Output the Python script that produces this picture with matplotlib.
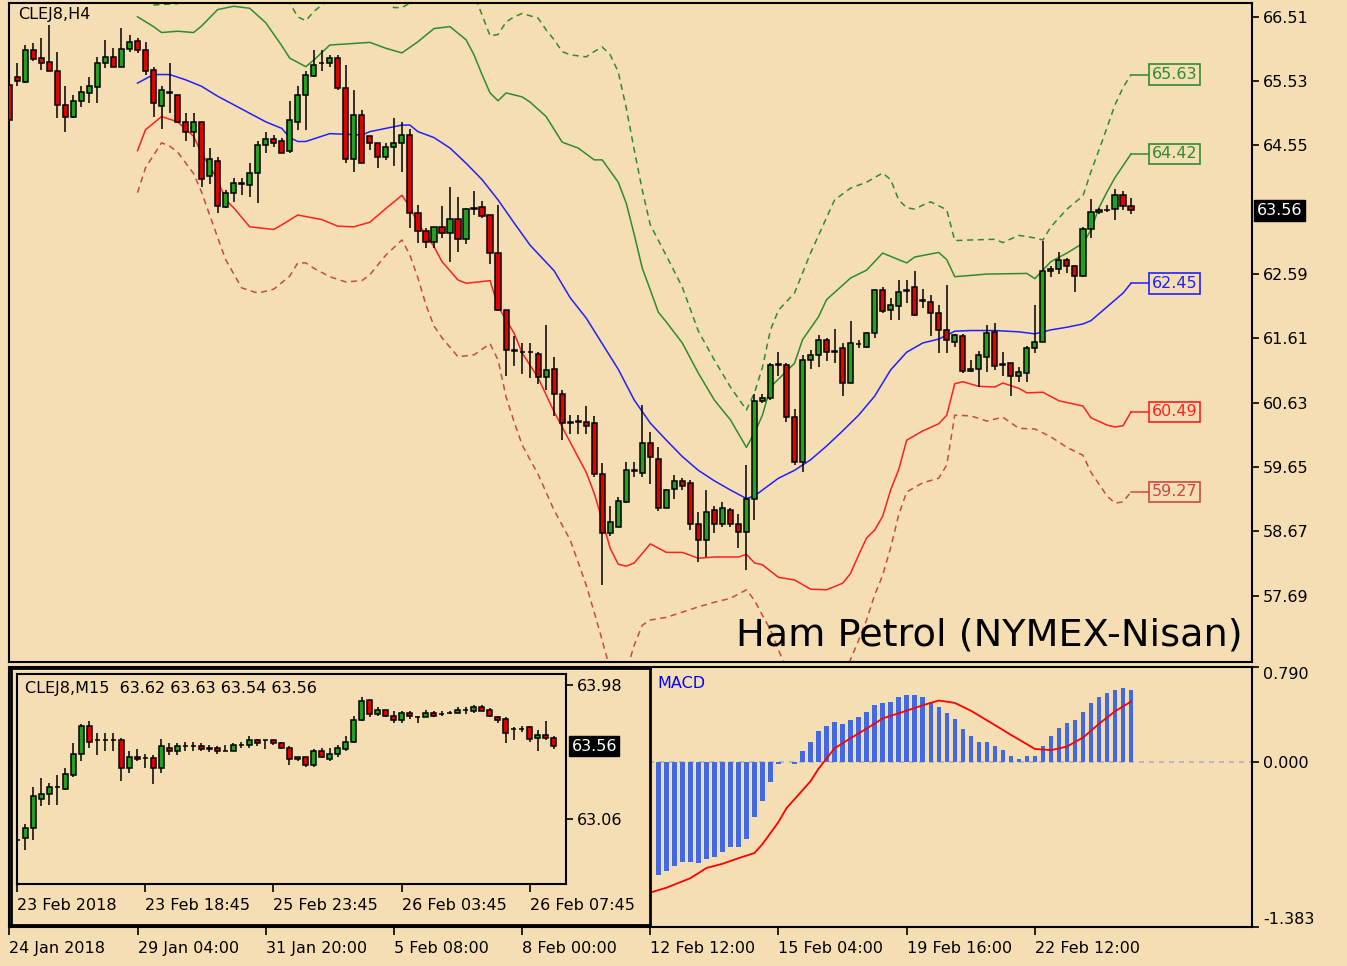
import numpy as np
import matplotlib.pyplot as plt
from matplotlib.transforms import blended_transform_factory

# ---- H4 candles (bar index 0..140) ----
h4_open = [65.47, 65.60, 65.52, 66.00, 65.88, 65.82, 65.69, 65.17, 64.98, 65.23,
           65.35, 65.44, 65.81, 65.90, 65.74, 66.02, 66.14, 66.00, 65.70, 65.15,
           65.36, 65.32, 64.91, 64.76, 64.90, 64.08, 64.32, 63.61, 63.83, 63.97,
           63.95, 64.13, 64.56, 64.65, 64.61, 64.46, 64.91, 65.32, 65.61, 65.80,
           65.80, 65.88, 65.42, 64.34, 65.02, 64.69, 64.58, 64.37, 64.52, 64.58,
           64.71, 63.52, 63.24, 63.08, 63.30, 63.21, 63.43, 63.12, 63.58, 63.61,
           63.49, 62.91, 62.05, 61.43, 61.41, 61.40, 61.38, 61.02, 61.14, 60.77,
           60.33, 60.33, 60.34, 60.32, 59.55, 58.65, 58.74, 59.12, 59.59, 59.56,
           60.01, 59.77, 59.03, 59.31, 59.43, 59.40, 58.78, 58.54, 58.99, 58.78,
           59.00, 58.78, 58.66, 59.17, 60.65, 60.70, 61.21, 61.21, 60.41, 59.72,
           61.28, 61.36, 61.58, 61.41, 61.46, 60.93, 61.52, 61.48, 61.70, 62.34,
           62.05, 62.10, 62.33, 62.39, 62.18, 62.17, 61.99, 61.74, 61.56, 61.64,
           61.12, 61.14, 61.32, 61.71, 61.20, 61.23, 61.04, 61.08, 61.47, 61.56,
           62.64, 62.66, 62.80, 62.71, 62.56, 63.27, 63.54, 63.56, 63.58, 63.80,
           63.62]
h4_high = [65.58, 65.80, 66.08, 66.11, 66.19, 66.39, 65.98, 65.45, 65.32, 65.45,
           65.60, 65.90, 66.15, 66.03, 66.34, 66.24, 66.19, 66.13, 65.75, 65.46,
           65.81, 65.32, 65.04, 65.04, 64.91, 64.51, 64.38, 63.87, 64.05, 64.05,
           64.28, 64.61, 64.75, 64.71, 64.66, 65.22, 65.45, 65.68, 66.01, 66.01,
           65.93, 65.93, 65.78, 65.40, 65.09, 64.69, 64.58, 64.58, 64.97, 64.90,
           64.80, 63.64, 63.29, 63.31, 63.62, 63.92, 63.77, 63.59, 63.86, 63.71,
           63.49, 63.64, 62.05, 61.64, 61.54, 61.54, 61.41, 61.81, 61.32, 60.83,
           60.44, 60.44, 60.58, 60.43, 59.71, 59.06, 59.20, 59.73, 59.73, 60.59,
           60.19, 59.96, 59.31, 59.53, 59.48, 59.46, 58.97, 59.30, 59.05, 59.12,
           59.03, 58.94, 59.68, 60.77, 60.77, 61.23, 61.41, 61.23, 60.53, 61.36,
           61.43, 61.66, 61.61, 61.75, 61.54, 61.87, 61.59, 61.71, 62.37, 62.40,
           62.22, 62.50, 62.50, 62.64, 62.37, 62.27, 62.12, 62.43, 61.68, 61.68,
           61.28, 61.42, 61.81, 61.85, 61.41, 61.24, 61.18, 61.50, 62.12, 63.10,
           62.71, 62.92, 62.83, 62.73, 63.30, 63.73, 63.59, 63.64, 63.88, 63.85,
           63.75]
h4_low = [64.83, 65.45, 65.50, 65.83, 65.70, 65.68, 64.97, 64.76, 64.97, 65.14,
          65.19, 65.19, 65.73, 65.74, 65.74, 65.98, 65.96, 65.63, 64.99, 64.80,
          65.04, 64.89, 64.61, 64.53, 63.92, 63.97, 63.52, 63.59, 63.69, 63.80,
          63.77, 63.67, 64.43, 64.53, 64.43, 64.43, 64.79, 64.79, 65.59, 65.68,
          65.75, 65.40, 64.28, 64.15, 64.28, 64.48, 64.20, 64.33, 64.24, 64.15,
          63.29, 63.06, 62.98, 62.98, 63.14, 62.78, 62.93, 63.05, 63.49, 63.44,
          62.74, 62.02, 61.04, 61.19, 61.07, 61.00, 60.92, 60.82, 60.43, 60.06,
          60.16, 60.16, 60.15, 59.50, 57.85, 58.60, 58.74, 59.10, 59.50, 59.50,
          59.39, 58.98, 59.02, 59.17, 59.30, 58.69, 58.21, 58.28, 58.64, 58.74,
          58.74, 58.41, 58.08, 58.84, 60.62, 60.67, 61.03, 60.34, 59.68, 59.58,
          61.15, 61.18, 61.27, 61.23, 60.73, 60.93, 61.46, 61.46, 61.61, 62.00,
          61.89, 61.89, 62.15, 61.95, 62.07, 61.65, 61.39, 61.39, 61.48, 61.09,
          61.10, 60.87, 61.10, 61.13, 61.04, 60.73, 60.95, 60.95, 61.39, 61.55,
          62.55, 62.59, 62.61, 62.32, 62.55, 63.14, 63.51, 63.54, 63.42, 63.57,
          63.51]
h4_close = [64.94, 65.53, 66.00, 65.87, 65.80, 65.69, 65.16, 64.98, 65.23, 65.36,
            65.45, 65.81, 65.90, 65.74, 66.02, 66.13, 66.00, 65.68, 65.19, 65.40,
            65.35, 64.90, 64.76, 64.90, 64.04, 64.34, 63.62, 63.83, 63.98, 63.98,
            64.13, 64.56, 64.65, 64.58, 64.44, 64.94, 65.32, 65.63, 65.78, 65.81,
            65.88, 65.42, 64.34, 65.02, 64.28, 64.58, 64.37, 64.53, 64.58, 64.71,
            63.52, 63.24, 63.08, 63.30, 63.21, 63.43, 63.12, 63.58, 63.60, 63.47,
            62.91, 62.04, 61.43, 61.42, 61.40, 61.41, 61.02, 61.13, 60.77, 60.32,
            60.32, 60.35, 60.28, 59.55, 58.64, 58.82, 59.14, 59.60, 59.60, 60.01,
            59.80, 59.02, 59.30, 59.43, 59.36, 58.78, 58.54, 58.97, 58.78, 59.03,
            58.78, 58.66, 59.16, 60.65, 60.70, 61.21, 61.22, 60.41, 59.73, 61.28,
            61.36, 61.58, 61.41, 61.42, 60.93, 61.54, 61.53, 61.70, 62.34, 62.03,
            62.12, 62.32, 62.35, 61.97, 62.19, 61.99, 61.74, 61.59, 61.66, 61.12,
            61.14, 61.36, 61.70, 61.19, 61.22, 61.04, 61.10, 61.47, 61.56, 62.64,
            62.66, 62.80, 62.71, 62.56, 63.27, 63.54, 63.56, 63.57, 63.80, 63.62,
            63.56]

# ---- envelope lines (bar index, price) ----
mid_idx = [16, 18, 20, 22, 24, 26, 28, 30, 32, 34, 35, 36, 37, 39, 40, 42, 44, 45, 47, 49,
           50, 51, 53, 55, 57, 59, 61, 63, 65, 67, 68, 70, 72, 76, 78, 80, 82, 84, 86, 88,
           90, 92, 93, 94, 96, 98, 100, 102, 104, 106, 108, 110, 112, 114, 116, 118, 120,
           123, 126, 128, 130, 132, 134, 135, 137, 139, 140]
mid_val = [65.50, 65.63, 65.63, 65.55, 65.45, 65.30, 65.17, 65.04, 64.91, 64.81, 64.67,
           64.61, 64.61, 64.69, 64.73, 64.72, 64.71, 64.76, 64.81, 64.86, 64.86, 64.76,
           64.67, 64.51, 64.28, 64.03, 63.72, 63.37, 63.03, 62.77, 62.64, 62.23, 61.92,
           61.14, 60.67, 60.32, 60.06, 59.81, 59.60, 59.44, 59.30, 59.17, 59.21, 59.30,
           59.48, 59.60, 59.76, 59.97, 60.20, 60.44, 60.73, 61.13, 61.40, 61.54, 61.60,
           61.72, 61.73, 61.73, 61.71, 61.68, 61.74, 61.78, 61.83, 61.88, 62.09, 62.30,
           62.45]
up1_idx = [16, 18, 19, 21, 23, 24, 26, 28, 30, 32, 34, 35, 37, 38, 40, 45, 47, 49, 51, 53,
           55, 57, 58, 59, 60, 61, 62, 64, 65, 67, 69, 71, 73, 74, 76, 77, 78, 79, 80, 81,
           82, 84, 86, 88, 90, 92, 93, 94, 95, 98, 99, 101, 102, 105, 107, 109, 112, 113,
           116, 117, 118, 122, 127, 128, 130, 132, 134, 135, 136, 137, 138, 139, 140]
up1_val = [66.51, 66.36, 66.27, 66.29, 66.27, 66.37, 66.62, 66.67, 66.64, 66.42, 66.07,
           65.88, 65.75, 65.85, 66.08, 66.12, 66.03, 65.96, 66.13, 66.33, 66.36, 66.16,
           65.93, 65.63, 65.35, 65.23, 65.35, 65.29, 65.21, 64.99, 64.60, 64.51, 64.33,
           64.33, 63.99, 63.67, 63.19, 62.68, 62.35, 62.01, 61.86, 61.54, 61.08, 60.67,
           60.37, 59.95, 60.17, 60.44, 60.87, 61.23, 61.59, 61.94, 62.20, 62.53, 62.65,
           62.91, 62.76, 62.85, 62.92, 62.81, 62.55, 62.59, 62.60, 62.52, 62.78, 62.91,
           63.06, 63.26, 63.60, 63.84, 64.06, 64.24, 64.42]
up2_idx = [16, 18, 21, 23, 26, 30, 34, 35, 36, 37, 38, 39, 42, 46, 48, 49, 50, 52, 56, 58,
           59, 60, 61, 62, 63, 64, 66, 67, 68, 69, 70, 72, 73, 74, 75, 76, 77, 78, 79, 80,
           82, 84, 86, 88, 90, 92, 93, 94, 95, 96, 98, 100, 102, 103, 105, 107, 109, 110,
           111, 112, 113, 114, 115, 117, 118, 120, 123, 124, 126, 127, 128, 129, 130, 132,
           134, 135, 136, 137, 138, 139, 140]
up2_val = [66.85, 66.69, 66.71, 66.90, 67.30, 67.30, 66.95, 66.72, 66.51, 66.45, 66.59,
           66.69, 66.95, 66.90, 66.65, 66.65, 66.72, 66.90, 67.10, 66.85, 66.54, 66.22,
           66.24, 66.43, 66.51, 66.56, 66.49, 66.31, 66.16, 65.98, 65.93, 65.90, 65.98,
           66.05, 65.93, 65.67, 65.12, 64.48, 63.87, 63.34, 62.87, 62.39, 61.72, 61.28,
           60.87, 60.52, 60.78, 61.17, 61.74, 62.04, 62.30, 62.91, 63.45, 63.72, 63.90,
           63.99, 64.13, 64.03, 63.72, 63.60, 63.58, 63.64, 63.69, 63.57, 63.10, 63.11,
           63.12, 63.07, 63.18, 63.16, 63.14, 63.11, 63.31, 63.58, 63.78, 64.15, 64.48,
           64.82, 65.17, 65.43, 65.63]
lo1_idx = [16, 17, 19, 21, 23, 24, 26, 27, 28, 30, 33, 34, 36, 39, 41, 43, 45, 47, 49, 50,
           51, 53, 54, 56, 57, 60, 61, 62, 63, 64, 66, 68, 70, 72, 73, 74, 75, 76, 77, 78,
           80, 82, 84, 86, 88, 91, 92, 93, 94, 96, 98, 100, 102, 104, 105, 106, 107, 108,
           109, 110, 111, 112, 114, 116, 117, 118, 119, 121, 123, 124, 126, 127, 129, 131,
           134, 135, 137, 138, 139, 140]
lo1_val = [64.47, 64.79, 64.99, 64.91, 64.69, 64.43, 64.03, 63.72, 63.60, 63.31, 63.27,
           63.34, 63.49, 63.42, 63.32, 63.31, 63.38, 63.59, 63.79, 63.61, 63.36, 63.01,
           62.78, 62.50, 62.45, 62.49, 62.10, 61.89, 61.69, 61.39, 61.01, 60.49, 60.03,
           59.57, 59.25, 58.84, 58.41, 58.17, 58.14, 58.19, 58.48, 58.35, 58.35, 58.26,
           58.28, 58.28, 58.32, 58.19, 58.16, 57.97, 57.93, 57.79, 57.78, 57.88, 58.03,
           58.31, 58.57, 58.69, 58.90, 59.30, 59.61, 60.06, 60.20, 60.31, 60.44, 60.92,
           60.95, 60.88, 60.87, 60.93, 60.85, 60.78, 60.79, 60.66, 60.58, 60.40, 60.29,
           60.26, 60.28, 60.49]
lo2_idx = [16, 17, 19, 20, 21, 23, 24, 25, 27, 29, 31, 33, 35, 36, 37, 38, 40, 42, 44, 45,
           47, 49, 50, 51, 52, 53, 54, 56, 58, 60, 61, 62, 63, 64, 65, 66, 68, 70, 71, 72,
           73, 74, 75, 76, 77, 78, 79, 80, 82, 84, 86, 88, 90, 92, 93, 94, 95, 96, 97, 100,
           103, 105, 106, 107, 108, 109, 110, 111, 112, 114, 116, 117, 118, 120, 122, 124,
           126, 128, 130, 132, 134, 135, 137, 138, 139, 140]
lo2_val = [63.83, 64.21, 64.59, 64.54, 64.45, 64.12, 63.84, 63.49, 62.81, 62.38, 62.30,
           62.36, 62.56, 62.76, 62.76, 62.68, 62.55, 62.47, 62.49, 62.58, 62.88, 63.11,
           62.88, 62.53, 62.12, 61.80, 61.62, 61.33, 61.36, 61.53, 61.28, 60.72, 60.34,
           59.99, 59.76, 59.54, 58.99, 58.54, 58.20, 57.85, 57.44, 57.01, 56.56, 56.25,
           56.53, 56.94, 57.24, 57.32, 57.36, 57.44, 57.52, 57.59, 57.65, 57.78, 57.62,
           57.39, 57.17, 56.86, 56.59, 56.25, 56.10, 56.72, 57.01, 57.32, 57.70, 58.00,
           58.42, 58.92, 59.27, 59.41, 59.48, 59.68, 60.44, 60.43, 60.35, 60.41, 60.24,
           60.23, 60.11, 59.95, 59.83, 59.57, 59.21, 59.10, 59.12, 59.27]

# ---- MACD window ----
macd_idx = list(range(81, 141))
macd_val = [-0.947, -0.919, -0.872, -0.836, -0.836, -0.850, -0.816, -0.800, -0.752, -0.716,
            -0.716, -0.649, -0.465, -0.334, -0.167, -0.020, 0.000, -0.020, 0.084, 0.167,
            0.251, 0.298, 0.334, 0.315, 0.348, 0.371, 0.410, 0.474, 0.493, 0.501,
            0.538, 0.557, 0.557, 0.538, 0.501, 0.454, 0.404, 0.354, 0.270, 0.215,
            0.167, 0.167, 0.131, 0.098, 0.047, 0.020, 0.047, 0.047, 0.131, 0.215,
            0.279, 0.320, 0.348, 0.418, 0.488, 0.538, 0.571, 0.599, 0.613, 0.599]
sig_idx = [80, 82, 85, 86, 87, 89, 91, 93, 94, 96, 97, 100, 101, 103, 105, 107, 109, 112,
           114, 116, 118, 120, 123, 125, 127, 128, 130, 132, 134, 136, 138, 140]
sig_val = [-1.095, -1.055, -0.975, -0.933, -0.890, -0.855, -0.808, -0.765, -0.690, -0.505,
           -0.390, -0.165, -0.060, 0.110, 0.195, 0.275, 0.360, 0.425, 0.470, 0.510, 0.490,
           0.425, 0.305, 0.223, 0.145, 0.105, 0.095, 0.125, 0.200, 0.315, 0.420, 0.501]

# ---- M15 inset candles ----
m15_open = [62.92, 62.93, 63.00, 63.20, 63.23, 63.28, 63.27, 63.36, 63.51, 63.70,
            63.60, 63.60, 63.60, 63.60, 63.41, 63.49, 63.48, 63.48, 63.41, 63.55,
            63.53, 63.56, 63.56, 63.56, 63.55, 63.55, 63.53, 63.53, 63.57, 63.57,
            63.60, 63.60, 63.60, 63.58, 63.55, 63.47, 63.49, 63.43, 63.53, 63.47,
            63.51, 63.54, 63.59, 63.74, 63.88, 63.78, 63.81, 63.77, 63.74, 63.79,
            63.76, 63.76, 63.79, 63.78, 63.79, 63.79, 63.81, 63.80, 63.83, 63.81,
            63.76, 63.75, 63.68, 63.68, 63.69, 63.62, 63.64, 63.62]
m15_high = [62.93, 63.03, 63.28, 63.34, 63.31, 63.36, 63.41, 63.58, 63.71, 63.73,
            63.65, 63.65, 63.65, 63.62, 63.53, 63.54, 63.51, 63.50, 63.61, 63.58,
            63.58, 63.59, 63.59, 63.58, 63.57, 63.56, 63.57, 63.58, 63.59, 63.63,
            63.61, 63.60, 63.60, 63.59, 63.56, 63.49, 63.49, 63.54, 63.55, 63.55,
            63.57, 63.63, 63.77, 63.90, 63.88, 63.83, 63.81, 63.80, 63.80, 63.80,
            63.77, 63.81, 63.80, 63.80, 63.80, 63.83, 63.83, 63.84, 63.84, 63.82,
            63.77, 63.76, 63.69, 63.70, 63.70, 63.67, 63.73, 63.63]
m15_low = [62.91, 62.85, 62.92, 63.15, 63.16, 63.16, 63.26, 63.35, 63.46, 63.55,
           63.50, 63.53, 63.53, 63.32, 63.38, 63.46, 63.41, 63.30, 63.38, 63.50,
           63.50, 63.53, 63.53, 63.53, 63.52, 63.51, 63.53, 63.53, 63.55, 63.55,
           63.56, 63.54, 63.57, 63.54, 63.43, 63.46, 63.42, 63.42, 63.48, 63.46,
           63.49, 63.53, 63.58, 63.73, 63.76, 63.77, 63.76, 63.72, 63.72, 63.75,
           63.72, 63.76, 63.76, 63.77, 63.78, 63.79, 63.78, 63.79, 63.80, 63.76,
           63.72, 63.58, 63.60, 63.66, 63.59, 63.53, 63.60, 63.54]
m15_close = [62.92, 63.00, 63.22, 63.23, 63.28, 63.28, 63.37, 63.51, 63.70, 63.59,
             63.60, 63.60, 63.60, 63.41, 63.49, 63.47, 63.48, 63.41, 63.56, 63.53,
             63.56, 63.56, 63.56, 63.54, 63.54, 63.53, 63.53, 63.57, 63.57, 63.60,
             63.58, 63.60, 63.58, 63.55, 63.47, 63.49, 63.43, 63.53, 63.49, 63.51,
             63.55, 63.59, 63.74, 63.87, 63.78, 63.81, 63.77, 63.74, 63.79, 63.77,
             63.76, 63.79, 63.77, 63.78, 63.79, 63.81, 63.81, 63.83, 63.80, 63.77,
             63.74, 63.65, 63.68, 63.68, 63.61, 63.64, 63.62, 63.56]

price_ticks = [66.51, 65.53, 64.55, 62.59, 61.61, 60.63, 59.65, 58.67, 57.69]
date_ticks = ['24 Jan 2018', '29 Jan 04:00', '31 Jan 20:00', '5 Feb 08:00', '8 Feb 00:00',
              '12 Feb 12:00', '15 Feb 04:00', '19 Feb 16:00', '22 Feb 12:00']
m15_date_ticks = ['23 Feb 2018', '23 Feb 18:45', '25 Feb 23:45', '26 Feb 03:45',
                  '26 Feb 07:45']
band_labels = [(65.63, '#2e8b2e'), (64.42, '#2e8b2e'), (62.45, '#2020ff'),
               (60.49, '#ff2020'), (59.27, '#c84848')]

BG = '#f5deb3'
BULL = '#22a022'
BEAR = '#e00000'
FS = 11.5
LW = 1.1

W, H = 1347, 966
fig = plt.figure(figsize=(W / 100, H / 100), dpi=100)
fig.patch.set_facecolor(BG)


def px_axes(x0, y0, x1, y1, **kw):
    return fig.add_axes([x0 / W, (H - y1) / H, (x1 - x0) / W, (y1 - y0) / H], **kw)


def draw_candles(ax, o, h, l, c, width=0.64):
    o, h, l, c = map(np.asarray, (o, h, l, c))
    x = np.arange(len(o))
    ax.vlines(x, l, h, color='black', lw=1.1, zorder=3)
    col = np.where(c > o, BULL, np.where(c < o, BEAR, 'black'))
    ax.bar(x, np.abs(c - o), bottom=np.minimum(o, c), width=width, color=col,
           edgecolor='black', linewidth=1.1, zorder=4)


def style_frame(ax, lw=1.5):
    ax.set_facecolor(BG)
    for s in ax.spines.values():
        s.set_color('black')
        s.set_linewidth(lw)


# ---------------- main H4 chart ----------------
ax = px_axes(9, 3, 1252, 662)
style_frame(ax)
ax.set_xlim(-0.04, 155.1)
ax.set_ylim(56.68, 66.72)

ax.plot(up2_idx, up2_val, color='#2e8b2e', lw=LW, dashes=(4, 3), zorder=2)
ax.plot(up1_idx, up1_val, color='#2e8b2e', lw=LW, zorder=2)
ax.plot(mid_idx, mid_val, color='#2020ff', lw=LW, zorder=2)
ax.plot(lo1_idx, lo1_val, color='#ff2020', lw=LW, zorder=2)
ax.plot(lo2_idx, lo2_val, color='#c84848', lw=LW, dashes=(4, 3), zorder=2)
draw_candles(ax, h4_open, h4_high, h4_low, h4_close)

for val, col in band_labels:
    ax.plot([140, 142.4], [val, val], color=col, lw=LW, zorder=2)
    ax.text(142.55, val, f'{val:.2f}', color=col, fontsize=FS, va='center', ha='left',
            bbox=dict(boxstyle='square,pad=0.18', fc=BG, ec=col, lw=1.2))

ax.set_xticks([])
ax.yaxis.tick_right()
ax.set_yticks(price_ticks)
ax.set_yticklabels([f'{v:.2f}' for v in price_ticks])
ax.tick_params(axis='y', direction='out', length=5, width=1.2, pad=3, labelsize=FS)
trans = blended_transform_factory(ax.transAxes, ax.transData)
ax.text(1.004, 63.56, '63.56', transform=trans, color='white', fontsize=FS,
        va='center', ha='left', bbox=dict(boxstyle='square,pad=0.18', fc='black', ec='black'))
ax.text(1.1, 66.54, 'CLEJ8,H4', fontsize=FS, va='center', ha='left')
ax.text(153.9, 57.09, 'Ham Petrol (NYMEX-Nisan)', fontsize=27.5, va='center', ha='right')

# ---------------- MACD window ----------------
mx = px_axes(9, 667, 1252, 927)
style_frame(mx)
mx.set_xlim(-0.04, 155.1)
mx.set_ylim(-1.383, 0.790)
mx.axhline(0, color='#a8b4cc', lw=1.2, dashes=(3, 3), zorder=1)
mx.bar(macd_idx, macd_val, width=0.55, color='#4169e1', zorder=2)
mx.plot(sig_idx, sig_val, color='#ff0000', lw=LW + 0.2, zorder=3)
mx.text(0.522, 0.938, 'MACD', transform=mx.transAxes, color='#0000ff', fontsize=FS,
        va='center', ha='left')
mx.yaxis.tick_right()
mx.set_yticks([0.790, 0.0, -1.383])
mx.set_yticklabels(['0.790', '0.000', '-1.383'])
mx.tick_params(axis='y', direction='out', length=5, width=1.2, pad=3, labelsize=FS)
ylab = mx.get_yticklabels()
ylab[0].set_va('top')
ylab[2].set_va('bottom')
mx.set_xticks([16 * k for k in range(len(date_ticks))])
mx.set_xticklabels(date_ticks, ha='left')
mx.tick_params(axis='x', direction='out', length=6, width=1.2, pad=4, labelsize=FS)

# ---------------- M15 inset window ----------------
fr = px_axes(11, 668, 650, 925, zorder=5)
style_frame(fr, lw=2)
fr.set_xticks([])
fr.set_yticks([])

ix = px_axes(17, 674, 566, 884, zorder=6)
style_frame(ix, lw=1.5)
ix.set_xlim(-0.06, 68.56)
ix.set_ylim(62.617, 64.055)
draw_candles(ix, m15_open, m15_high, m15_low, m15_close)
ix.yaxis.tick_right()
ix.set_yticks([63.98, 63.06])
ix.set_yticklabels(['63.98', '63.06'])
ix.tick_params(axis='y', direction='out', length=5, width=1.2, pad=3, labelsize=FS)
itr = blended_transform_factory(ix.transAxes, ix.transData)
ix.text(1.01, 63.56, '63.56', transform=itr, color='white', fontsize=FS,
        va='center', ha='left', bbox=dict(boxstyle='square,pad=0.15', fc='black', ec='black'))
ix.set_xticks([16 * k for k in range(len(m15_date_ticks))])
ix.set_xticklabels(m15_date_ticks, ha='left')
ix.tick_params(axis='x', direction='out', length=6, width=1.2, pad=4, labelsize=FS)
ix.text(0.015, 0.933, 'CLEJ8,M15  63.62 63.63 63.54 63.56', transform=ix.transAxes,
        fontsize=FS, va='center', ha='left')

fig.savefig('out.png', dpi=100, facecolor=BG)
